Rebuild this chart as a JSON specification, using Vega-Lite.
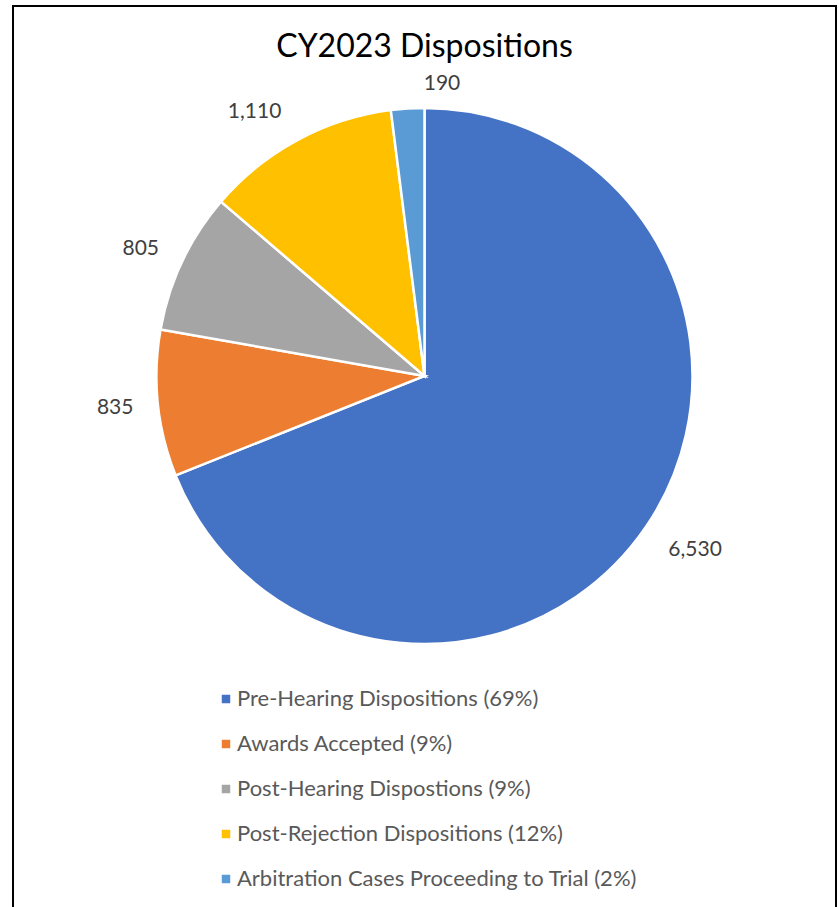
{
  "$schema": "https://vega.github.io/schema/vega-lite/v6.json",
  "width": 823,
  "height": 960,
  "padding": {"left": 13, "top": 6, "right": 2, "bottom": 0},
  "background": "white",
  "view": {"stroke": "#000000", "strokeWidth": 2, "fill": "white"},
  "config": {
    "view": {"stroke": "#000000", "strokeWidth": 2},
    "font": "Lato"
  },
  "title": {
    "text": "CY2023 Dispositions",
    "font": "Lato",
    "fontSize": 32,
    "fontWeight": "normal",
    "color": "#000000",
    "anchor": "middle",
    "baseline": "top",
    "offset": -58
  },
  "data": {
    "values": [
      {"i": 1, "category": "Pre-Hearing Dispositions (69%)", "value": 6530},
      {"i": 2, "category": "Awards Accepted (9%)", "value": 835},
      {"i": 3, "category": "Post-Hearing Dispostions (9%)", "value": 805},
      {"i": 4, "category": "Post-Rejection Dispositions (12%)", "value": 1110},
      {"i": 5, "category": "Arbitration Cases Proceeding to Trial (2%)", "value": 190}
    ]
  },
  "encoding": {
    "theta": {"field": "value", "type": "quantitative", "stack": true},
    "order": {"field": "i", "type": "quantitative", "sort": "ascending"},
    "color": {
      "field": "category",
      "type": "nominal",
      "sort": null,
      "scale": {"range": ["#4472C4", "#ED7D31", "#A5A5A5", "#FFC000", "#5B9BD5"]},
      "legend": {
        "title": null,
        "orient": "none",
        "legendX": 202,
        "legendY": 682,
        "direction": "vertical",
        "symbolType": "square",
        "symbolSize": 72,
        "symbolStrokeWidth": 0,
        "labelFont": "Lato",
        "labelFontSize": 22,
        "labelColor": "#595959",
        "labelOffset": 0,
        "rowPadding": 23,
        "padding": 0,
        "labelLimit": 700
      }
    }
  },
  "layer": [
    {
      "mark": {"type": "arc", "radius": 268, "stroke": "white", "strokeWidth": 2.5, "y": 370}
    },
    {
      "mark": {"type": "text", "radius": 316, "y": 370, "dx": 9, "dy": -3, "font": "Lato", "fontSize": 21, "align": "center", "baseline": "middle"},
      "encoding": {
        "text": {"condition": {"test": "datum.i != 1", "value": ""}, "field": "value", "type": "quantitative", "format": ","},
        "color": {"value": "#404040"}
      }
    },
    {
      "mark": {"type": "text", "radius": 316, "y": 370, "dx": 5, "dy": 0, "font": "Lato", "fontSize": 21, "align": "center", "baseline": "middle"},
      "encoding": {
        "text": {"condition": {"test": "datum.i != 2", "value": ""}, "field": "value", "type": "quantitative", "format": ","},
        "color": {"value": "#404040"}
      }
    },
    {
      "mark": {"type": "text", "radius": 316, "y": 370, "dx": 2, "dy": 8, "font": "Lato", "fontSize": 21, "align": "center", "baseline": "middle"},
      "encoding": {
        "text": {"condition": {"test": "datum.i != 3", "value": ""}, "field": "value", "type": "quantitative", "format": ","},
        "color": {"value": "#404040"}
      }
    },
    {
      "mark": {"type": "text", "radius": 316, "y": 370, "dx": -20, "dy": 14, "font": "Lato", "fontSize": 21, "align": "center", "baseline": "middle"},
      "encoding": {
        "text": {"condition": {"test": "datum.i != 4", "value": ""}, "field": "value", "type": "quantitative", "format": ","},
        "color": {"value": "#404040"}
      }
    },
    {
      "mark": {"type": "text", "radius": 294, "y": 370, "dx": 36, "dy": 1, "font": "Lato", "fontSize": 21, "align": "center", "baseline": "middle"},
      "encoding": {
        "text": {"condition": {"test": "datum.i != 5", "value": ""}, "field": "value", "type": "quantitative", "format": ","},
        "color": {"value": "#404040"}
      }
    }
  ]
}
